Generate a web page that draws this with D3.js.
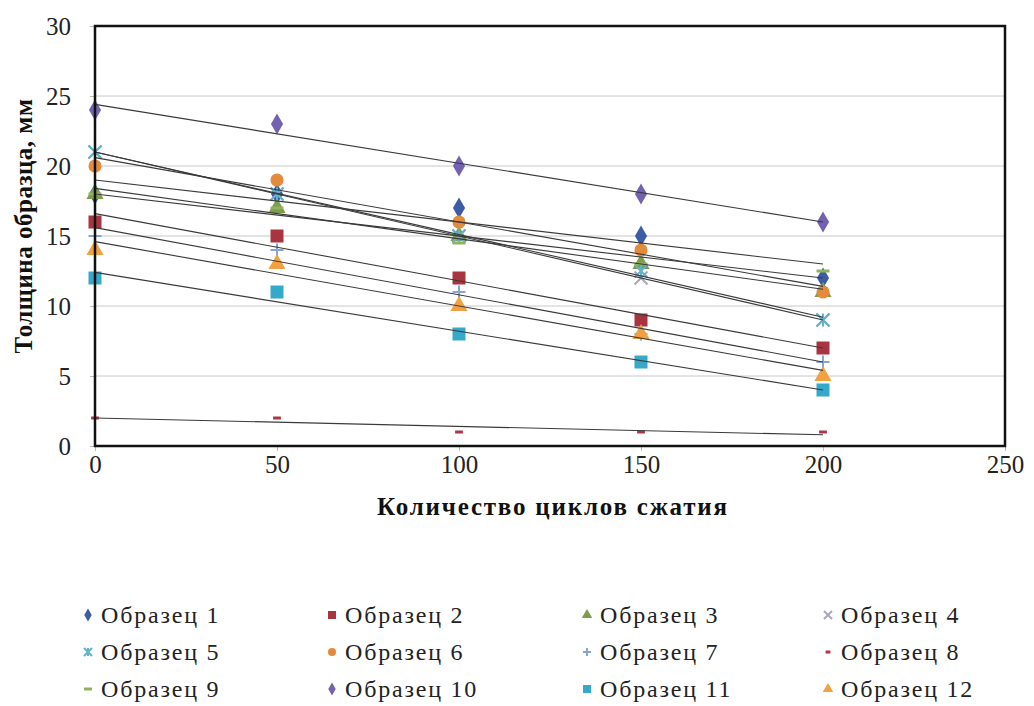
<!DOCTYPE html>
<html><head><meta charset="utf-8">
<script src="https://cdn.jsdelivr.net/npm/d3@7"></script>
<style>body{margin:0;background:#fff}svg{display:block}</style>
</head><body>
<svg id="c" width="1034" height="706"></svg>
<script>
const cycles = [0, 50, 100, 150, 200];
const seriesNames = ["Образец 1","Образец 2","Образец 3","Образец 4","Образец 5","Образец 6","Образец 7","Образец 8","Образец 9","Образец 10","Образец 11","Образец 12"];
const s1 = [18, 18, 17, 15, 12];
const s2 = [16, 15, 12, 9, 7];
const s3 = [18, 17, 15, 13, 11];
const s4 = [21, 18, 15, 12, 9];
const s5 = [21, 18, 15, 12.5, 9];
const s6 = [20, 19, 16, 14, 11];
const s7 = [15, 14, 11, 8, 6];
const s8 = [2, 2, 1, 1, 1];
const s9 = [18, 17, 14.5, 13, 12.5];
const s10 = [24, 23, 20, 18, 16];
const s11 = [12, 11, 8, 6, 4];
const s12 = [14, 13, 10, 8, 5];
const seriesValues = [s1,s2,s3,s4,s5,s6,s7,s8,s9,s10,s11,s12];
const colors = ["#3d5ca6","#a8343f","#7d9c4c","#a7a7bd","#5fb3cc","#e48a3c","#86a4d6","#b03444","#8fb25a","#7462b0","#35a9c9","#f2a040"];
const shapes = ["diamond","square","triangle","x","asterisk","circle","plus","dash","dash2","diamond","square","triangle"];
const yTicks = [0,5,10,15,20,25,30];
const xTicks = [0,50,100,150,200,250];
const xTitle = "Количество циклов сжатия";
const yTitle = "Толщина образца, мм";

const FONT = '"Liberation Serif","Times New Roman",Times,Tinos,"Noto Serif","DejaVu Serif",FreeSerif,serif';
const svg = d3.select("#c");
const L = 95, R = 1005, T = 26, B = 446;
const x = d3.scaleLinear().domain([0,250]).range([L,R]);
const y = d3.scaleLinear().domain([0,30]).range([B,T]);

// grid
svg.append("g").selectAll("line").data(yTicks.slice(1,-1)).join("line")
  .attr("x1",L).attr("x2",R).attr("y1",d=>y(d)).attr("y2",d=>y(d))
  .attr("stroke","#c8c8c8").attr("stroke-width",1);

// axes
const yAxis = svg.append("g").attr("transform",`translate(${L},0)`)
  .call(d3.axisLeft(y).tickValues(yTicks).tickSize(5).tickPadding(19));
const xAxis = svg.append("g").attr("transform",`translate(0,${B})`)
  .call(d3.axisBottom(x).tickValues(xTicks).tickSize(5).tickPadding(4));
[yAxis,xAxis].forEach(a=>{
  a.select(".domain").remove();
  a.selectAll(".tick line").attr("stroke","#bbb");
  a.selectAll(".tick text").attr("fill","#222").style("font-family",FONT).style("font-size","25px");
});

function markerPath(shape, s){
  const h = s/2;
  switch(shape){
    case "diamond": return d3.symbol(d3.symbolDiamond, s*s*0.75)();
    case "square": return d3.symbol(d3.symbolSquare, s*s)();
    case "triangle": return d3.symbol(d3.symbolTriangle, s*s*0.75)();
    case "circle": return d3.symbol(d3.symbolCircle, s*s*0.8)();
    case "x": return `M${-h},${-h}L${h},${h}M${-h},${h}L${h},${-h}`;
    case "asterisk": return `M${-h},${-h}L${h},${h}M${-h},${h}L${h},${-h}M0,${-h}L0,${h}`;
    case "plus": return `M${-h},0L${h},0M0,${-h}L0,${h}`;
    case "dash": return `M${-h*0.6},0L${h*0.6},0`;
    case "dash2": return `M${-h},0L${h},0`;
  }
}
const stroked = s => ["x","asterisk","plus","dash","dash2"].includes(s);

function drawMarker(g, shape, color, size){
  const p = g.append("path").attr("d", markerPath(shape,size));
  if(stroked(shape)) p.attr("fill","none").attr("stroke",color).attr("stroke-width", shape.startsWith("dash")?3:2);
  else p.attr("fill",color);
}

// markers
seriesValues.forEach((vals,i)=>{
  const g = svg.append("g");
  vals.forEach((v,j)=>{
    const mg = g.append("g").attr("transform",`translate(${x(cycles[j])},${y(v)})`);
    drawMarker(mg, shapes[i], colors[i], 13);
  });
});

// linear trendlines
seriesValues.forEach(vals=>{
  const mx = d3.mean(cycles), my = d3.mean(vals);
  const sxy = d3.sum(cycles.map((c,k)=>(c-mx)*(vals[k]-my)));
  const sxx = d3.sum(cycles.map(c=>(c-mx)*(c-mx)));
  const b = sxy/sxx, a = my - b*mx;
  svg.append("line").attr("x1",x(0)).attr("x2",x(200)).attr("y1",y(a)).attr("y2",y(a+b*200))
    .attr("stroke","#3a3a3a").attr("stroke-width",1.1);
});

// frame
svg.append("rect").attr("x",L).attr("y",T).attr("width",R-L).attr("height",B-T)
  .attr("fill","none").attr("stroke","#111").attr("stroke-width",2.5);

// titles
svg.append("text").attr("x",553).attr("y",515).attr("text-anchor","middle").attr("font-family",FONT)
  .attr("font-size",25).attr("font-weight","bold").attr("letter-spacing",1.8).attr("fill","#111").text(xTitle);
svg.append("text").attr("transform",`translate(32,226) rotate(-90)`).attr("text-anchor","middle").attr("font-family",FONT)
  .attr("font-size",25).attr("font-weight","bold").attr("letter-spacing",0.5).attr("fill","#111").text(yTitle);

// legend
const colX = [88, 332, 587, 828];
const rowY = [615, 652, 689];
seriesNames.forEach((name,i)=>{
  const cx = colX[i%4], cy = rowY[Math.floor(i/4)];
  const g = svg.append("g").attr("transform",`translate(${cx},${cy})`);
  drawMarker(g, shapes[i], colors[i], 8);
  svg.append("text").attr("x",cx+13).attr("y",cy+8).attr("font-family",FONT).attr("font-size",24)
    .attr("letter-spacing",1.8).attr("fill","#222").text(name);
});
</script>
</body></html>
